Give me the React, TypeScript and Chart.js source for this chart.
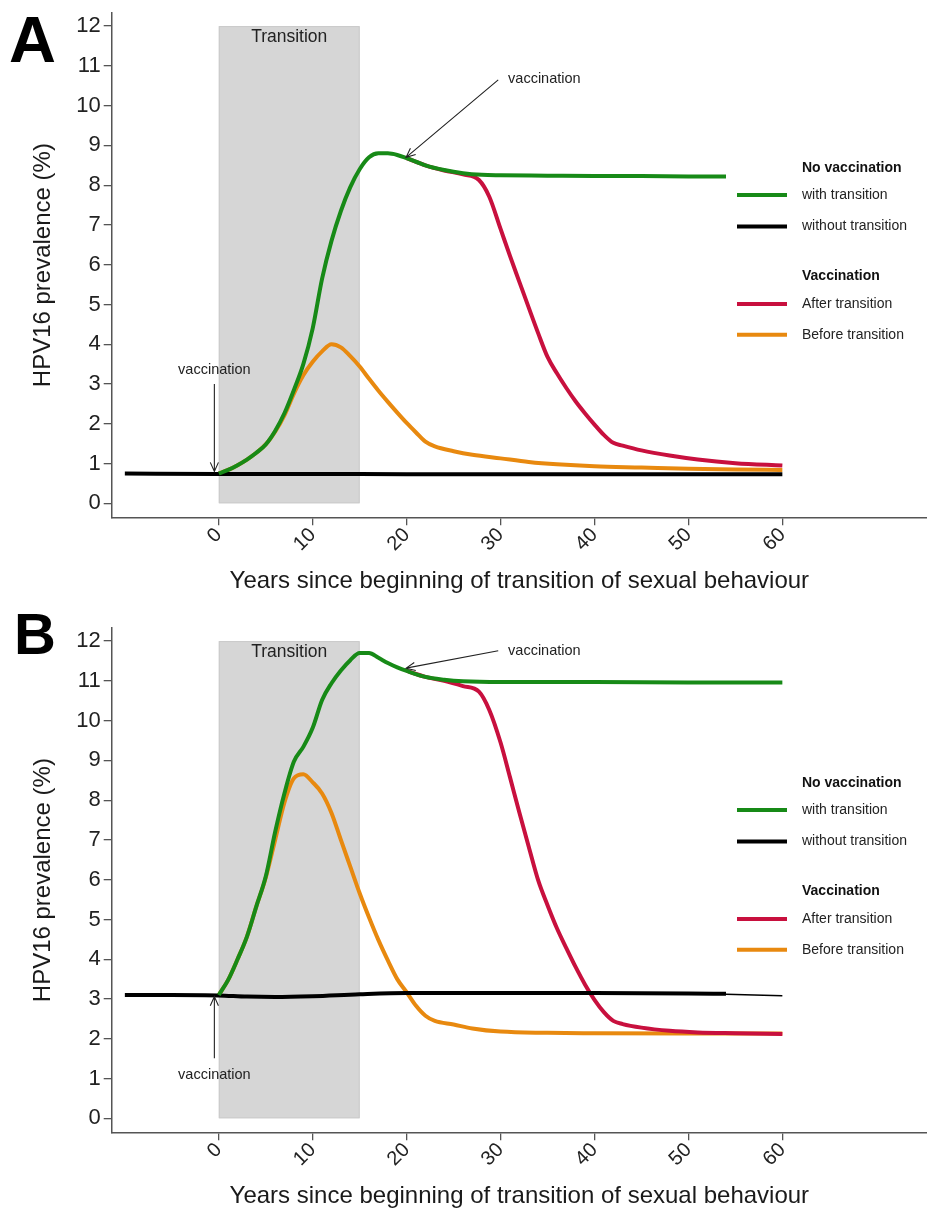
import React, { useEffect, useRef } from "react";
import { Chart, registerables } from "chart.js";

Chart.register(...registerables);

const FONT = "'Liberation Sans', Arial, Helvetica, sans-serif";

// ---------- axes ----------
const xTickValues = [0, 10, 20, 30, 40, 50, 60];
const yTickValues = [0, 1, 2, 3, 4, 5, 6, 7, 8, 9, 10, 11, 12];
const xTitle = "Years since beginning of transition of sexual behaviour";
const yTitle = "HPV16 prevalence (%)";

// ---------- legend ----------
const legendHeaders = ["No vaccination", "Vaccination"];
const legendLabels = ["with transition", "without transition", "After transition", "Before transition"];
const seriesColors = ["#178a17", "#000000", "#c8103e", "#e8890f"];

// ---------- transition band ----------
const transitionYears = [0, 15];
const transitionLabel = "Transition";
const annotationText = "vaccination";

// ---------- Panel A data ----------
const aBlackT = [-10, 0, 10, 20, 30, 40, 50, 60];
const aBlackV = [0.75, 0.74, 0.74, 0.73, 0.73, 0.73, 0.73, 0.73];

const aGreenT = [0, 1, 2, 3, 4, 5, 6, 7, 8, 9, 10, 11, 12, 13, 14, 15, 16, 17, 18, 19, 20, 22, 24, 26, 28, 30, 35, 40, 45, 50, 54];
const aGreenV = [0.75, 0.84, 0.96, 1.1, 1.27, 1.48, 1.82, 2.27, 2.85, 3.5, 4.4, 5.65, 6.6, 7.35, 7.95, 8.4, 8.7, 8.8, 8.8, 8.76, 8.68, 8.5, 8.38, 8.3, 8.26, 8.25, 8.24, 8.23, 8.23, 8.22, 8.22];

const aRedT = [20, 22, 24, 26, 27.7, 28.8, 30, 31, 32, 33, 34, 35, 36, 37, 38, 39, 40, 41, 42, 43, 45, 48, 51, 55, 60];
const aRedV = [8.68, 8.5, 8.37, 8.27, 8.13, 7.71, 6.9, 6.22, 5.57, 4.92, 4.28, 3.68, 3.27, 2.9, 2.56, 2.26, 1.98, 1.72, 1.52, 1.45, 1.33, 1.2, 1.1, 1.01, 0.95];

const aOrangeT = [0, 1, 2, 3, 4, 5, 6, 7, 8, 9, 10, 11, 12, 13, 14, 15, 16, 17, 18, 19, 20, 21, 22, 23, 25, 27, 30, 33, 36, 40, 45, 50, 55, 60];
const aOrangeV = [0.75, 0.84, 0.96, 1.1, 1.27, 1.48, 1.8, 2.22, 2.76, 3.22, 3.56, 3.82, 4.0, 3.92, 3.7, 3.44, 3.13, 2.83, 2.55, 2.28, 2.02, 1.78, 1.55, 1.43, 1.31, 1.22, 1.13, 1.04, 0.98, 0.93, 0.9, 0.87, 0.85, 0.84];

// ---------- Panel B data ----------
const bBlackT = [-10, -5, 0, 3, 6, 10, 15, 20, 30, 40, 50, 54];
const bBlackV = [3.1, 3.1, 3.09, 3.06, 3.05, 3.07, 3.12, 3.15, 3.15, 3.15, 3.14, 3.13];
const bBlackTailT = [54, 60];
const bBlackTailV = [3.12, 3.08];

const bGreenT = [0, 1, 2, 3, 4, 5, 6, 7, 8, 9, 10, 11, 12, 13, 14, 15, 16, 17, 18, 19, 20, 22, 24, 26, 30, 40, 50, 60];
const bGreenV = [3.1, 3.48, 4.0, 4.57, 5.33, 6.08, 7.2, 8.18, 8.97, 9.34, 9.82, 10.52, 10.94, 11.26, 11.52, 11.7, 11.7, 11.58, 11.45, 11.34, 11.25, 11.1, 11.03, 10.99, 10.97, 10.97, 10.96, 10.96];

const bRedT = [20, 22, 24, 26, 27.7, 28.8, 30, 31, 32, 33, 34, 35, 36, 37, 38, 39, 40, 41, 42, 43, 45, 48, 51, 55, 60];
const bRedV = [11.25, 11.1, 11.0, 10.87, 10.73, 10.27, 9.45, 8.58, 7.69, 6.83, 5.99, 5.36, 4.78, 4.28, 3.8, 3.36, 2.98, 2.67, 2.45, 2.37, 2.28, 2.2, 2.16, 2.14, 2.12];

const bOrangeT = [0, 1, 2, 3, 4, 5, 6, 7, 8, 9, 10, 11, 12, 13, 14, 15, 16, 17, 18, 19, 20, 21, 22, 23, 25, 27, 30, 35, 40, 50, 60];
const bOrangeV = [3.1, 3.48, 4.0, 4.57, 5.33, 6.05, 7.0, 7.95, 8.55, 8.65, 8.45, 8.17, 7.68, 7.0, 6.33, 5.66, 5.05, 4.48, 3.97, 3.5, 3.17, 2.83, 2.58, 2.45, 2.36, 2.26, 2.18, 2.15, 2.14, 2.13, 2.13];

// ---------- layout ----------
const W = 927;
const X_MIN = -11.4;
const X_MAX = 75.4;
const Y_MIN = -0.352;
const Y_MAX = 12.33;

type Arrow = { from: [number, number]; to: [number, number]; textAt: [number, number]; align: CanvasTextAlign };

type Panel = {
  letter: string;
  letterX: number;
  letterY: number;
  letterSize: number;
  height: number;
  padTop: number;
  xAxisHeight: number;
  titlePadBottom: number;
  series: { t: number[]; v: number[]; color: string; width: number }[];
  arrows: Arrow[];
  labelV: number;
  legendY: number;
};

const pts = (t: number[], v: number[]) => t.map((x, i) => ({ x, y: v[i] }));

const panelA: Panel = {
  letter: "A",
  letterX: 9,
  letterY: 62,
  letterSize: 65,
  height: 600,
  padTop: 13,
  xAxisHeight: 600 - 517.3,
  titlePadBottom: 4.6,
  series: [
    { t: aGreenT, v: aGreenV, color: seriesColors[0], width: 4 },
    { t: aBlackT, v: aBlackV, color: seriesColors[1], width: 4 },
    { t: aRedT, v: aRedV, color: seriesColors[2], width: 4 },
    { t: aOrangeT, v: aOrangeV, color: seriesColors[3], width: 4 },
  ],
  arrows: [
    { from: [-0.47, 3.0], to: [-0.47, 0.8], textAt: [-0.47, 3.35], align: "center" },
    { from: [29.75, 10.65], to: [19.94, 8.7], textAt: [30.8, 10.67], align: "left" },
  ],
  labelV: 11.71,
  legendY: 168,
};

const panelB: Panel = {
  letter: "B",
  letterX: 14,
  letterY: 54,
  letterSize: 58,
  height: 611,
  padTop: 28,
  xAxisHeight: 611 - 532.3,
  titlePadBottom: 0.6,
  series: [
    { t: bGreenT, v: bGreenV, color: seriesColors[0], width: 4 },
    { t: bBlackT, v: bBlackV, color: seriesColors[1], width: 4 },
    { t: bBlackTailT, v: bBlackTailV, color: seriesColors[1], width: 1.5 },
    { t: bRedT, v: bRedV, color: seriesColors[2], width: 4 },
    { t: bOrangeT, v: bOrangeV, color: seriesColors[3], width: 4 },
  ],
  arrows: [
    { from: [-0.47, 1.51], to: [-0.47, 3.06], textAt: [-0.47, 1.09], align: "center" },
    { from: [29.75, 11.76], to: [19.94, 11.32], textAt: [30.8, 11.75], align: "left" },
  ],
  labelV: 11.71,
  legendY: 183,
};

function makeOverlay(panel: Panel) {
  return {
    id: "overlay" + panel.letter,
    beforeDatasetsDraw(chart: any) {
      const { ctx } = chart;
      const x = chart.scales.x;
      const y = chart.scales.y;
      const l = x.getPixelForValue(transitionYears[0]);
      const r = x.getPixelForValue(transitionYears[1]);
      const t = y.getPixelForValue(12);
      const b = y.getPixelForValue(0);
      ctx.save();
      ctx.fillStyle = "#d6d6d6";
      ctx.fillRect(l, t, r - l, b - t);
      ctx.strokeStyle = "#cacaca";
      ctx.lineWidth = 1;
      ctx.strokeRect(l + 0.5, t + 0.5, r - l - 1, b - t - 1);
      ctx.fillStyle = "#222";
      ctx.font = `17.5px ${FONT}`;
      ctx.textAlign = "center";
      ctx.textBaseline = "middle";
      ctx.fillText(transitionLabel, (l + r) / 2, y.getPixelForValue(panel.labelV));
      ctx.restore();
    },
    afterDatasetsDraw(chart: any) {
      const { ctx } = chart;
      const x = chart.scales.x;
      const y = chart.scales.y;
      ctx.save();
      ctx.strokeStyle = "#222";
      ctx.fillStyle = "#222";
      ctx.lineWidth = 1.1;
      ctx.font = `14.5px ${FONT}`;
      ctx.textBaseline = "middle";
      for (const a of panel.arrows) {
        const x1 = x.getPixelForValue(a.from[0]);
        const y1 = y.getPixelForValue(a.from[1]);
        const x2 = x.getPixelForValue(a.to[0]);
        const y2 = y.getPixelForValue(a.to[1]);
        ctx.beginPath();
        ctx.moveTo(x1, y1);
        ctx.lineTo(x2, y2);
        const ang = Math.atan2(y2 - y1, x2 - x1);
        const hl = 10;
        const spread = 0.42;
        ctx.moveTo(x2 - hl * Math.cos(ang - spread), y2 - hl * Math.sin(ang - spread));
        ctx.lineTo(x2, y2);
        ctx.lineTo(x2 - hl * Math.cos(ang + spread), y2 - hl * Math.sin(ang + spread));
        ctx.stroke();
        ctx.textAlign = a.align;
        ctx.fillText(annotationText, x.getPixelForValue(a.textAt[0]), y.getPixelForValue(a.textAt[1]));
      }
      ctx.restore();
    },
    afterDraw(chart: any) {
      const { ctx } = chart;
      ctx.save();
      // panel letter
      ctx.fillStyle = "#000";
      ctx.font = `bold ${panel.letterSize}px ${FONT}`;
      ctx.textAlign = "left";
      ctx.textBaseline = "alphabetic";
      ctx.fillText(panel.letter, panel.letterX, panel.letterY);
      // legend
      const lx0 = 737;
      const lx1 = 787;
      const tx = 802;
      const y0 = panel.legendY;
      const rows = [
        { kind: "h", text: legendHeaders[0], dy: 0 },
        { kind: "l", text: legendLabels[0], color: seriesColors[0], dy: 27 },
        { kind: "l", text: legendLabels[1], color: seriesColors[1], dy: 58.5 },
        { kind: "h", text: legendHeaders[1], dy: 108.5 },
        { kind: "l", text: legendLabels[2], color: seriesColors[2], dy: 136 },
        { kind: "l", text: legendLabels[3], color: seriesColors[3], dy: 166.7 },
      ];
      ctx.textBaseline = "middle";
      for (const r of rows) {
        const yy = y0 + r.dy;
        if (r.kind === "h") {
          ctx.font = `bold 14px ${FONT}`;
          ctx.fillStyle = "#111";
          ctx.fillText(r.text, tx, yy);
        } else {
          ctx.strokeStyle = (r as any).color;
          ctx.lineWidth = 4;
          ctx.beginPath();
          ctx.moveTo(lx0, yy);
          ctx.lineTo(lx1, yy);
          ctx.stroke();
          ctx.font = `14px ${FONT}`;
          ctx.fillStyle = "#222";
          ctx.fillText(r.text, tx, yy);
        }
      }
      ctx.restore();
    },
  };
}

function PanelChart({ panel }: { panel: Panel }) {
  const ref = useRef<HTMLCanvasElement | null>(null);
  useEffect(() => {
    if (!ref.current) return;
    const axisColor = "#555";
    const chart = new Chart(ref.current, {
      type: "line",
      data: {
        datasets: panel.series.map((s, i) => ({
          label: "s" + i,
          data: pts(s.t, s.v),
          borderColor: s.color,
          backgroundColor: s.color,
          borderWidth: s.width,
          pointRadius: 0,
          fill: false,
          cubicInterpolationMode: "monotone" as const,
          borderCapStyle: "butt" as const,
          borderJoinStyle: "round" as const,
        })),
      },
      options: {
        animation: false,
        responsive: false,
        maintainAspectRatio: false,
        devicePixelRatio: 1,
        layout: { padding: { left: 0, right: 0, top: panel.padTop, bottom: 0 } },
        plugins: { legend: { display: false }, tooltip: { enabled: false } },
        events: [],
        scales: {
          x: {
            type: "linear",
            min: X_MIN,
            max: X_MAX,
            afterBuildTicks: (s: any) => {
              s.ticks = xTickValues.map((v) => ({ value: v }));
            },
            afterFit: (s: any) => {
              s.height = panel.xAxisHeight;
              s.paddingLeft = 0;
              s.paddingRight = 0;
            },
            ticks: {
              autoSkip: false,
              minRotation: 45,
              maxRotation: 45,
              padding: -2,
              color: "#222",
              font: { family: FONT, size: 20 },
            },
            grid: { drawOnChartArea: false, drawTicks: true, tickLength: 8, color: axisColor, lineWidth: 1.3 },
            border: { display: true, color: axisColor, width: 1.5 },
            title: {
              display: true,
              text: xTitle,
              color: "#1a1a1a",
              font: { family: FONT, size: 24 },
              padding: { top: 0, bottom: panel.titlePadBottom },
            },
          },
          y: {
            type: "linear",
            min: Y_MIN,
            max: Y_MAX,
            afterBuildTicks: (s: any) => {
              s.ticks = yTickValues.map((v) => ({ value: v }));
            },
            afterFit: (s: any) => {
              s.width = 111.7;
              s.paddingTop = 0;
              s.paddingBottom = 0;
            },
            ticks: {
              padding: 3,
              color: "#222",
              font: { family: FONT, size: 22 },
            },
            grid: { drawOnChartArea: false, drawTicks: true, tickLength: 8, color: axisColor, lineWidth: 1.3 },
            border: { display: true, color: axisColor, width: 1.5 },
            title: {
              display: true,
              text: yTitle,
              color: "#1a1a1a",
              font: { family: FONT, size: 24 },
              padding: { top: 28.6, bottom: 0 },
            },
          },
        },
      },
      plugins: [makeOverlay(panel)],
    } as any);
    return () => chart.destroy();
  }, [panel]);
  return (
    <canvas
      ref={ref}
      width={W}
      height={panel.height}
      style={{ display: "block", width: W, height: panel.height }}
    />
  );
}

export default function App() {
  return (
    <div
      style={{
        position: "absolute",
        left: 0,
        top: 0,
        width: W,
        height: 1211,
        overflow: "hidden",
        background: "#fff",
      }}
    >
      <PanelChart panel={panelA} />
      <PanelChart panel={panelB} />
    </div>
  );
}
